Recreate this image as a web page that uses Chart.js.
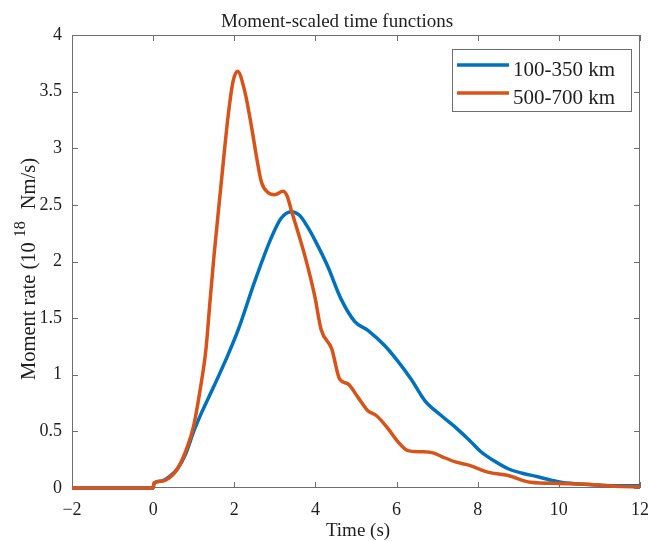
<!DOCTYPE html>
<html>
<head>
<meta charset="utf-8">
<script src="https://cdn.jsdelivr.net/npm/chart.js@4/dist/chart.umd.min.js"></script>
<style>
html,body{margin:0;padding:0;background:#fff;}
canvas{display:block;}
</style>
</head>
<body>
<canvas id="c" width="648" height="541"></canvas>
<script>
// ---- data ----
const chartTitle = "Moment-scaled time functions";
const xTitle = "Time (s)";
const seriesNames = ["100-350 km", "500-700 km"];
const seriesColors = ["#0072BD", "#D95319"];

const tBlue = [-2, -1, 0, 0.02, 0.2, 0.4, 0.6, 0.8, 1.0, 1.2, 1.5, 1.85, 2.1, 2.5, 2.9, 3.15, 3.4, 3.6, 3.8, 4.0, 4.3, 4.63, 4.97, 5.3, 5.7, 6.03, 6.36, 6.7, 7.1, 7.5, 7.8, 8.08, 8.4, 8.75, 9.1, 9.48, 10.05, 10.5, 11.0, 11.5, 12];
const vBlue = [0, 0, 0, 0.04, 0.06, 0.1, 0.17, 0.3, 0.5, 0.67, 0.9, 1.18, 1.4, 1.82, 2.2, 2.38, 2.44, 2.41, 2.31, 2.18, 1.96, 1.67, 1.47, 1.39, 1.26, 1.12, 0.96, 0.77, 0.64, 0.52, 0.42, 0.32, 0.24, 0.17, 0.13, 0.10, 0.05, 0.035, 0.025, 0.02, 0.02];

const tRed = [-2, -1, 0, 0.02, 0.2, 0.4, 0.6, 0.85, 1.0, 1.15, 1.3, 1.4, 1.5, 1.68, 1.85, 1.97, 2.08, 2.26, 2.42, 2.55, 2.67, 2.83, 3.0, 3.2, 3.3, 3.4, 3.74, 3.98, 4.14, 4.4, 4.6, 4.8, 5.05, 5.3, 5.5, 5.8, 6.03, 6.28, 6.6, 6.9, 7.1, 7.45, 7.8, 8.25, 8.75, 9.3, 10, 10.8, 11.4, 12];
const vRed = [0, 0, 0, 0.045, 0.06, 0.09, 0.17, 0.37, 0.55, 0.85, 1.22, 1.64, 2.05, 2.7, 3.29, 3.59, 3.68, 3.5, 3.2, 2.92, 2.7, 2.61, 2.59, 2.62, 2.58, 2.46, 2.05, 1.70, 1.40, 1.23, 0.96, 0.92, 0.8, 0.68, 0.64, 0.52, 0.41, 0.33, 0.32, 0.31, 0.28, 0.23, 0.2, 0.14, 0.11, 0.05, 0.04, 0.03, 0.015, 0.01];

const xMin = -2, xMax = 12, xStep = 2;
const yMin = 0, yMax = 4, yStep = 0.5;

const SERIF = "'Liberation Serif', 'Times New Roman', serif";
const AXIS_COLOR = "#6e6e6e";
const TEXT_COLOR = "#1e1e1e";

function pts(ts, vs){ return ts.map((t,i)=>({x:t, y:vs[i]})); }

const decor = {
  id: 'decor',
  beforeDatasetsDraw(chart){
    const {ctx, chartArea:a, scales} = chart;
    ctx.save();
    ctx.strokeStyle = AXIS_COLOR;
    ctx.lineWidth = 1;
    ctx.strokeRect(a.left+0.5, a.top+0.5, a.right-a.left-1, a.bottom-a.top-1);
    const L = 6;
    ctx.beginPath();
    scales.x.ticks.forEach(t=>{
      const px = Math.round(scales.x.getPixelForValue(t.value))+0.5;
      ctx.moveTo(px, a.bottom); ctx.lineTo(px, a.bottom-L);
      ctx.moveTo(px, a.top); ctx.lineTo(px, a.top+L);
    });
    scales.y.ticks.forEach(t=>{
      const py = Math.round(scales.y.getPixelForValue(t.value))+0.5;
      ctx.moveTo(a.left, py); ctx.lineTo(a.left+L, py);
      ctx.moveTo(a.right, py); ctx.lineTo(a.right-L, py);
    });
    ctx.stroke();
    ctx.restore();
  },
  afterDraw(chart){
    const {ctx} = chart;
    ctx.save();
    ctx.fillStyle = TEXT_COLOR;
    // title
    ctx.font = "19px " + SERIF;
    ctx.textAlign = 'center';
    ctx.textBaseline = 'alphabetic';
    ctx.fillText(chartTitle, 337, 27);
    // x title
    ctx.fillText(xTitle, 358, 536);
    // y title with raised exponent
    ctx.save();
    ctx.translate(35, 380);
    ctx.rotate(-Math.PI/2);
    ctx.textAlign = 'left';
    ctx.font = "20.5px " + SERIF;
    const p1 = "Moment rate (10";
    ctx.fillText(p1, 0, 0);
    const w1 = ctx.measureText(p1).width;
    ctx.font = "16px " + SERIF;
    ctx.fillText("18", w1+5, -10);
    const w2 = ctx.measureText("18").width;
    ctx.font = "20.5px " + SERIF;
    ctx.fillText("Nm/s)", w1+5+w2+12, 0);
    ctx.restore();
    // legend box
    const bx = 452, by = 49, bw = 179, bh = 62;
    ctx.fillStyle = '#fff';
    ctx.fillRect(bx, by, bw, bh);
    ctx.strokeStyle = AXIS_COLOR;
    ctx.lineWidth = 1;
    ctx.strokeRect(bx+0.5, by+0.5, bw, bh);
    const rows = [65, 93];
    chart.data.datasets.forEach((ds,i)=>{
      const y = rows[i];
      ctx.strokeStyle = ds.borderColor;
      ctx.lineWidth = 3.5;
      ctx.beginPath();
      ctx.moveTo(457, y); ctx.lineTo(509, y);
      ctx.stroke();
      ctx.fillStyle = TEXT_COLOR;
      ctx.font = "21px " + SERIF;
      ctx.textAlign = 'left';
      ctx.fillText(ds.label, 513, y+11);
    });
    ctx.restore();
  }
};

new Chart(document.getElementById('c'), {
  type: 'line',
  data: {
    datasets: [
      {label: seriesNames[0], data: pts(tBlue, vBlue), borderColor: seriesColors[0], borderWidth: 3.5, pointRadius: 0, cubicInterpolationMode: 'monotone', fill: false, order: 1, clip: 6},
      {label: seriesNames[1], data: pts(tRed, vRed), borderColor: seriesColors[1], borderWidth: 3.5, pointRadius: 0, cubicInterpolationMode: 'monotone', fill: false, order: 0, clip: 6}
    ]
  },
  options: {
    responsive: false,
    animation: false,
    devicePixelRatio: 1,
    layout: {padding: {top: 35, right: 8, bottom: 0, left: 0}},
    plugins: {legend: {display: false}, title: {display: false}, tooltip: {enabled: false}},
    scales: {
      x: {
        type: 'linear', min: xMin, max: xMax,
        grid: {display: false, drawTicks: false},
        border: {display: false},
        ticks: {stepSize: xStep, padding: 11, color: TEXT_COLOR, font: {family: SERIF, size: 18},
                maxRotation: 0, callback: v => String(v).replace('-', '\u2212')},
        afterFit(s){ s.height = 53; s.paddingLeft = 0; s.paddingRight = 0; }
      },
      y: {
        type: 'linear', min: yMin, max: yMax,
        grid: {display: false, drawTicks: false},
        border: {display: false},
        ticks: {stepSize: yStep, padding: 10, color: TEXT_COLOR, font: {family: SERIF, size: 18},
                callback: v => String(v)},
        afterFit(s){ s.width = 72; s.paddingTop = 0; s.paddingBottom = 0; }
      }
    }
  },
  plugins: [decor]
});
</script>
</body>
</html>
